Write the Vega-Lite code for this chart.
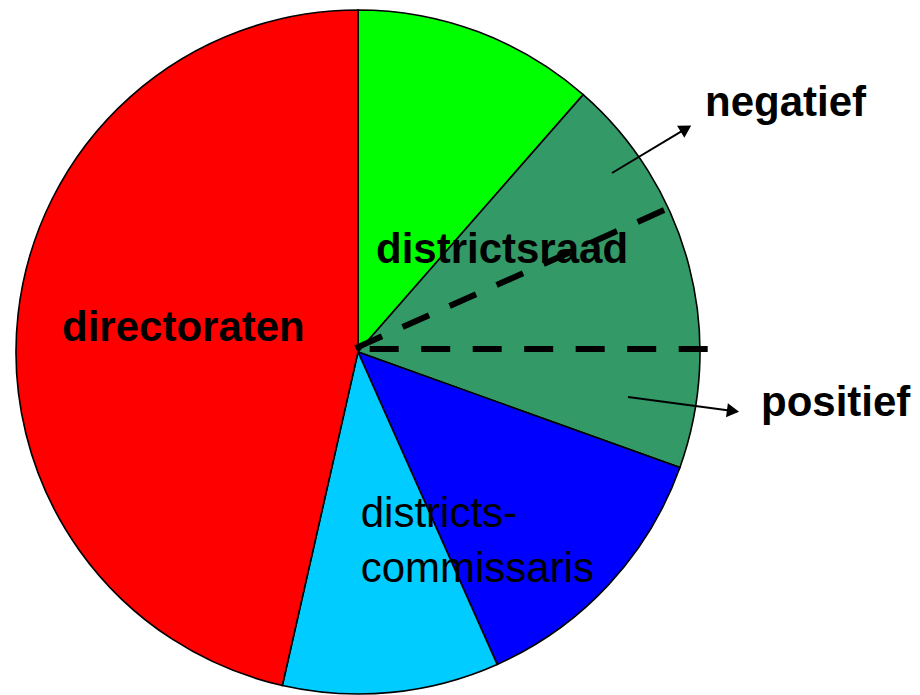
{
  "$schema": "https://vega.github.io/schema/vega-lite/v6.json",
  "width": 920,
  "height": 695,
  "autosize": "none",
  "padding": 0,
  "background": "white",
  "config": {"view": {"stroke": null}},
  "datasets": {
    "slices": [
      {"slice": "green", "order": 1, "value": 11.44},
      {"slice": "darkgreen", "order": 2, "value": 19.04},
      {"slice": "blue", "order": 3, "value": 12.85},
      {"slice": "lightblue", "order": 4, "value": 10.22},
      {"slice": "red", "order": 5, "value": 46.45}
    ],
    "dashes": [
      {"x": 0.895, "y": 0.415, "x2": -0.01, "y2": 0.01},
      {"x": 1.0225, "y": 0.009, "x2": 0, "y2": 0.009}
    ],
    "shafts": [
      {"x": 0.7427, "y": 0.5234, "x2": 0.959, "y2": 0.6532},
      {"x": 0.7895, "y": -0.1316, "x2": 1.0965, "y2": -0.1725}
    ],
    "boldLabels": [
      {"label": "districtsraad", "x": 0.0526, "y": 0.2602},
      {"label": "directoraten", "x": -0.8655, "y": 0.0322},
      {"label": "negatief", "x": 1.0146, "y": 0.6901},
      {"label": "positief", "x": 1.1784, "y": -0.1871}
    ],
    "plainLabels": [
      {"label": "districts-", "x": 0.0079, "y": -0.5117},
      {"label": "commissaris", "x": 0.0079, "y": -0.6725}
    ]
  },
  "layer": [
    {
      "data": {"name": "slices"},
      "mark": {"type": "arc", "outerRadius": 342, "stroke": "black", "strokeWidth": 1.6},
      "encoding": {
        "x": {"datum": 0, "type": "quantitative", "scale": {"domain": [-1.0468, 1.6433], "nice": false, "zero": false}, "axis": null},
        "y": {"datum": 0, "type": "quantitative", "scale": {"domain": [-1.0029, 1.0292], "nice": false, "zero": false}, "axis": null},
        "theta": {"field": "value", "type": "quantitative", "stack": true},
        "order": {"field": "order", "type": "quantitative"},
        "color": {
          "field": "slice",
          "type": "nominal",
          "scale": {"domain": ["green", "darkgreen", "blue", "lightblue", "red"], "range": ["#00FF00", "#339966", "#0000FF", "#00CCFF", "#FF0000"]},
          "legend": null
        }
      }
    },
    {
      "data": {"name": "dashes"},
      "mark": {"type": "rule", "color": "black", "strokeWidth": 6, "strokeDash": [29, 22.5]},
      "encoding": {
        "x": {"field": "x", "type": "quantitative"},
        "y": {"field": "y", "type": "quantitative"},
        "x2": {"field": "x2"},
        "y2": {"field": "y2"}
      }
    },
    {
      "data": {"name": "shafts"},
      "mark": {"type": "rule", "color": "black", "strokeWidth": 2},
      "encoding": {
        "x": {"field": "x", "type": "quantitative"},
        "y": {"field": "y", "type": "quantitative"},
        "x2": {"field": "x2"},
        "y2": {"field": "y2"}
      }
    },
    {
      "data": {"values": [{"x": 0.959, "y": 0.6532}]},
      "mark": {"type": "point", "shape": "triangle-up", "filled": true, "color": "black", "size": 200, "angle": 59, "opacity": 1},
      "encoding": {
        "x": {"field": "x", "type": "quantitative"},
        "y": {"field": "y", "type": "quantitative"}
      }
    },
    {
      "data": {"values": [{"x": 1.0965, "y": -0.1725}]},
      "mark": {"type": "point", "shape": "triangle-up", "filled": true, "color": "black", "size": 200, "angle": 97.6, "opacity": 1},
      "encoding": {
        "x": {"field": "x", "type": "quantitative"},
        "y": {"field": "y", "type": "quantitative"}
      }
    },
    {
      "data": {"name": "boldLabels"},
      "mark": {"type": "text", "font": "Liberation Sans", "fontSize": 42, "fontWeight": "bold", "align": "left", "baseline": "alphabetic", "color": "black"},
      "encoding": {
        "x": {"field": "x", "type": "quantitative"},
        "y": {"field": "y", "type": "quantitative"},
        "text": {"field": "label"}
      }
    },
    {
      "data": {"name": "plainLabels"},
      "mark": {"type": "text", "font": "Liberation Sans", "fontSize": 42, "fontWeight": "normal", "align": "left", "baseline": "alphabetic", "color": "black"},
      "encoding": {
        "x": {"field": "x", "type": "quantitative"},
        "y": {"field": "y", "type": "quantitative"},
        "text": {"field": "label"}
      }
    }
  ]
}
